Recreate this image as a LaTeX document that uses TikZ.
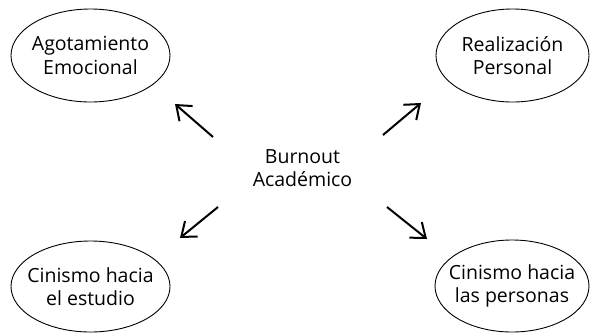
\documentclass[tikz,border=0pt]{standalone}
\usepackage{fontspec}
\setmainfont{Open Sans}
\usetikzlibrary{arrows.meta,shapes.geometric}
\begin{document}
\begin{tikzpicture}[x=1pt,y=1pt,
  elbox/.style={draw=black,line width=0.9pt,ellipse,inner xsep=-20pt,inner ysep=0pt,align=center,font=\fontsize{19.5}{23.5}\selectfont},
  txt/.style={align=center,inner sep=0pt,font=\fontsize{19.5}{23.5}\selectfont},
  arr/.style={line width=2pt,-{Straight Barb[length=13pt,width=20pt,line width=2pt]}}]
\useasboundingbox (0,0) rectangle (590,-333);
\node[elbox,minimum width=159pt,minimum height=93pt] (ae) at (90.5,-55.5) {Agotamiento\\Emocional};
\node[elbox,minimum width=153pt,minimum height=93pt] (rp) at (512.5,-55.5) {Realización\\Personal};
\node[elbox,minimum width=159pt,minimum height=91pt] (ce) at (90.5,-286.5) {Cinismo hacia\\el estudio};
\node[elbox,minimum width=154pt,minimum height=92pt] (cp) at (512,-286) {Cinismo hacia\\las personas};
\node[txt] (ba) at (302.5,-168) {Burnout\\Académico};
\coordinate (t1) at (213,-137); \coordinate (h1) at (175,-104);
\coordinate (t2) at (383,-135); \coordinate (h2) at (421,-103);
\coordinate (t3) at (218,-207); \coordinate (h3) at (180,-238);
\coordinate (t4) at (387,-207); \coordinate (h4) at (427,-239);
\draw[arr] (t1) -- (h1);
\draw[arr] (t2) -- (h2);
\draw[arr] (t3) -- (h3);
\draw[arr] (t4) -- (h4);
\end{tikzpicture}
\end{document}
